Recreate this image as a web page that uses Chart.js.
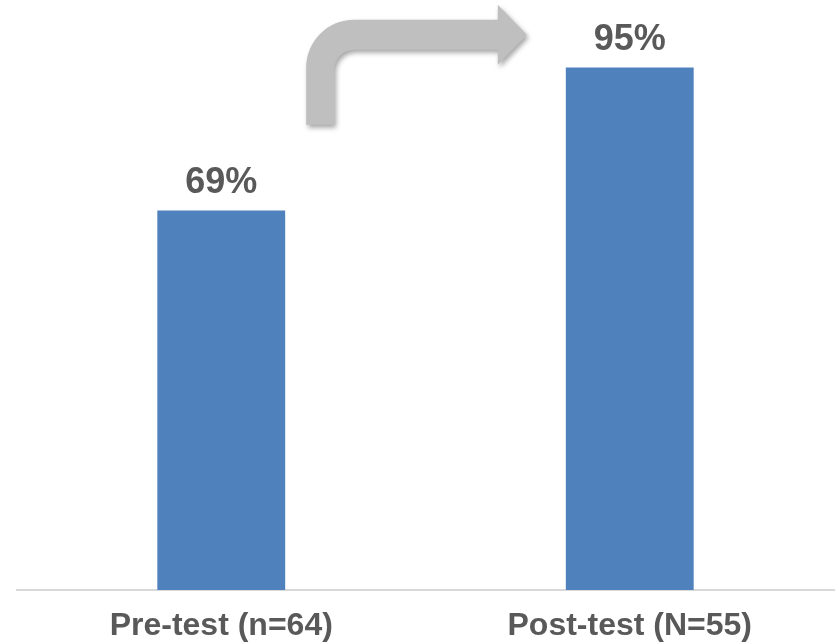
<!DOCTYPE html>
<html>
<head>
<meta charset="utf-8">
<title>Pre-test vs Post-test</title>
<script src="https://cdn.jsdelivr.net/npm/chart.js@4/dist/chart.umd.min.js"></script>
<style>
  html, body { margin: 0; padding: 0; background: #fff; }
  #wrap { width: 835px; height: 644px; position: relative; }
</style>
</head>
<body>
<div id="wrap"><canvas id="chart"></canvas></div>
<script>
// ---- data ----
const categories = ['Pre-test (n=64)', 'Post-test (N=55)'];
const scores = [69, 95];          // percent correct
const valueLabels = ['69%', '95%'];

const BAR_COLOR = '#4F81BD';
const TEXT_COLOR = '#595959';
const FONT = '"Liberation Sans", Arial, sans-serif';

// labels above the bars
const valueLabelPlugin = {
  id: 'valueLabels',
  afterDatasetsDraw(chart) {
    const ctx = chart.ctx;
    const meta = chart.getDatasetMeta(0);
    ctx.save();
    ctx.font = 'bold 36px ' + FONT;
    ctx.fillStyle = TEXT_COLOR;
    ctx.textAlign = 'center';
    ctx.textBaseline = 'alphabetic';
    meta.data.forEach((bar, i) => {
      ctx.fillText(valueLabels[i], bar.x, bar.y - 18);
    });
    ctx.restore();
  }
};

// grey bent arrow between the bars
const arrowPlugin = {
  id: 'bentArrow',
  afterDatasetsDraw(chart) {
    const ctx = chart.ctx;
    const y = chart.scales.y;
    const bar1 = chart.getDatasetMeta(0).data[0];
    const bar2 = chart.getDatasetMeta(0).data[1];
    const b1Right = bar1.x + bar1.width / 2;
    const b2Left = bar2.x - bar2.width / 2;

    const stemL = b1Right + 21;
    const stemR = stemL + 28;
    const bottom = y.getPixelForValue(84.6);
    const bandTop = y.getPixelForValue(103.7);
    const bandBot = bandTop + 30;
    const rOut = 48, rIn = 20;
    const headBase = b2Left - 68;
    const tip = b2Left - 39;
    const headTop = bandTop - 15;
    const headBot = bandBot + 15;
    const midY = (bandTop + bandBot) / 2;

    ctx.save();
    ctx.shadowColor = 'rgba(0,0,0,0.35)';
    ctx.shadowBlur = 5;
    ctx.shadowOffsetX = 2;
    ctx.shadowOffsetY = 3;
    ctx.fillStyle = '#BFBFBF';
    ctx.beginPath();
    ctx.moveTo(stemL, bottom);
    ctx.lineTo(stemL, bandTop + rOut);
    ctx.arcTo(stemL, bandTop, stemL + rOut, bandTop, rOut);
    ctx.lineTo(headBase, bandTop);
    ctx.lineTo(headBase, headTop);
    ctx.lineTo(tip, midY);
    ctx.lineTo(headBase, headBot);
    ctx.lineTo(headBase, bandBot);
    ctx.lineTo(stemR + rIn, bandBot);
    ctx.arcTo(stemR, bandBot, stemR, bandBot + rIn, rIn);
    ctx.lineTo(stemR, bottom);
    ctx.closePath();
    ctx.fill();
    ctx.restore();
  }
};

new Chart(document.getElementById('chart'), {
  type: 'bar',
  data: {
    labels: categories,
    datasets: [{
      data: scores,
      backgroundColor: BAR_COLOR,
      borderWidth: 0,
      categoryPercentage: 1,
      barPercentage: 0.313
    }]
  },
  options: {
    responsive: true,
    maintainAspectRatio: false,
    animation: false,
    layout: { padding: { top: 40, left: 17, right: 1, bottom: 0 } },
    plugins: {
      legend: { display: false },
      tooltip: { enabled: false }
    },
    scales: {
      x: {
        grid: { display: false, drawTicks: false },
        border: { display: true, color: '#D9D9D9', width: 2 },
        ticks: {
          color: TEXT_COLOR,
          font: { family: FONT, size: 32, weight: 'bold' },
          padding: 17,
          maxRotation: 0
        },
        afterFit(scale) { scale.height = 54; }
      },
      y: {
        display: false,
        min: 0,
        max: 100
      }
    }
  },
  plugins: [valueLabelPlugin, arrowPlugin]
});
</script>
</body>
</html>
